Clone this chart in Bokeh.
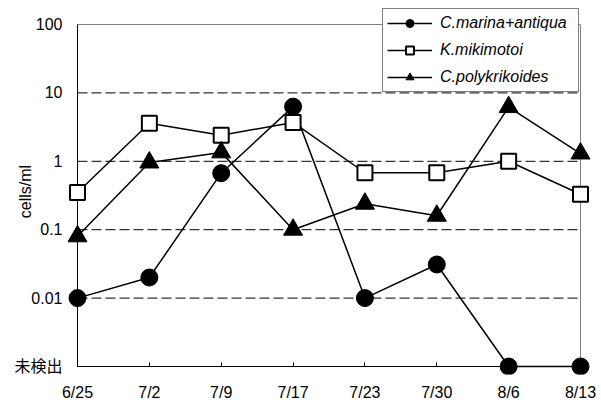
import math
from bokeh.plotting import figure
from bokeh.models import FixedTicker, Range1d, Legend, LegendItem, LinearAxis
from bokeh.embed import file_html
from bokeh.resources import INLINE

# ---------------- data ----------------
dates = ["6/25", "7/2", "7/9", "7/17", "7/23", "7/30", "8/6", "8/13"]
ND = 0.001  # plotted level for 未検出 (not detected)
marina = [0.01, 0.02, 0.67, 6.3, 0.01, 0.031, ND, ND]
mikimotoi = [0.35, 3.6, 2.4, 3.7, 0.68, 0.68, 1.0, 0.33]
polykrikoides = [0.08, 0.96, 1.35, 0.1, 0.24, 0.16, 6.2, 1.3]
series_names = ["C.marina+antiqua", "K.mikimotoi", "C.polykrikoides"]
y_ticks = [ND, 0.01, 0.1, 1, 10, 100]
y_tick_labels = ["未検出", "0.01", "0.1", "1", "10", "100"]
grid_levels = [0.01, 0.1, 1, 10]

xs = list(range(len(dates)))

# ---------------- layout (figure px) ----------------
W, H = 601, 403
FL, FR, FT, FB = 67, 592, 8, 374          # frame edges
AX_L, AX_R = 77, 580                       # x = first / last category
AX_T, AX_B = 24, 366                       # y = 100 / ND
px_per_x = (AX_R - AX_L) / (xs[-1] - xs[0])
x_start = xs[0] - (AX_L - FL) / px_per_x
x_end = xs[-1] + (FR - AX_R) / px_per_x
lt, lb = math.log10(y_ticks[-1]), math.log10(y_ticks[0])
px_per_dec = (AX_B - AX_T) / (lt - lb)
y_end = 10 ** (lt + (AX_T - FT) / px_per_dec)
y_start = 10 ** (lb - (FB - AX_B) / px_per_dec)

p = figure(width=W, height=H, x_range=Range1d(x_start, x_end),
           y_range=Range1d(y_start, y_end), y_axis_type="log",
           output_backend="svg", toolbar_location=None,
           min_border_left=FL, min_border_right=W - FR,
           min_border_top=FT, min_border_bottom=H - FB,
           outline_line_color=None, background_fill_color="white")
p.grid.visible = False

FONT = "Liberation Sans, Noto Sans CJK JP"

# x axis (labels, at the frame bottom)
xa = p.xaxis[0]
xa.ticker = FixedTicker(ticks=xs)
xa.major_label_overrides = {i: d for i, d in enumerate(dates)}
xa.axis_line_color = None
xa.major_tick_line_color = None
xa.major_tick_out = 0
xa.major_tick_in = 0
xa.minor_tick_line_color = None
xa.minor_tick_out = 0
xa.major_label_standoff = 9
xa.major_label_text_font = FONT
xa.major_label_text_font_size = "16px"
xa.major_label_text_color = "black"

# x axis tick marks (on the ND level)
xt = LinearAxis(fixed_location=y_ticks[0], ticker=FixedTicker(ticks=xs),
                major_label_overrides={i: "" for i in xs},
                bounds=(xs[0], xs[-1]), axis_line_color=None,
                major_tick_in=4, major_tick_out=0, major_tick_line_color="black",
                minor_tick_line_color=None, major_label_standoff=0)
p.add_layout(xt, "below")

# y axis
ya = p.yaxis[0]
ya.ticker = FixedTicker(ticks=y_ticks)
ya.major_label_overrides = {float(t): lab for t, lab in zip(y_ticks, y_tick_labels)}
ya.axis_line_color = None
ya.major_tick_line_color = None
ya.major_tick_out = 0
ya.major_tick_in = 0
ya.minor_tick_line_color = None
ya.minor_tick_out = 0
ya.major_label_standoff = 5
ya.major_label_text_font = FONT
ya.major_label_text_font_size = "16px"
ya.major_label_text_color = "black"
ya.axis_label = "cells/ml"
ya.axis_label_standoff = -23
ya.axis_label_text_font = FONT
ya.axis_label_text_font_style = "normal"
ya.axis_label_text_font_size = "16px"
ya.axis_label_text_color = "black"

# grid lines (dashed)
n = len(grid_levels)
p.segment(x0=[xs[0]] * n, y0=grid_levels, x1=[xs[-1]] * n, y1=grid_levels,
          line_color="black", line_width=1, line_dash="10 4")
# plot-area border (gray) and axis lines (black)
p.segment(x0=[xs[0], xs[-1]], y0=[y_ticks[-1], y_ticks[0]],
          x1=[xs[-1], xs[-1]], y1=[y_ticks[-1], y_ticks[-1]],
          line_color="#808080", line_width=1)
p.segment(x0=[xs[0], xs[0]], y0=[y_ticks[0], y_ticks[0]],
          x1=[xs[0], xs[-1]], y1=[y_ticks[-1], y_ticks[0]],
          line_color="black", line_width=1)

styles = [
    dict(marker="circle", size=17, fill_color="black", line_width=1),
    dict(marker="square", size=15, fill_color="white", line_width=2),
    dict(marker="triangle", size=19, fill_color="black", line_width=1),
]
items = []
for name, vals, st in zip(series_names, [marina, mikimotoi, polykrikoides], styles):
    rl = p.line(xs, vals, line_color="black", line_width=1.5)
    rm = p.scatter(xs, vals, marker=st["marker"], size=st["size"],
                   fill_color=st["fill_color"], line_color="black",
                   line_width=st["line_width"])
    items.append(LegendItem(label=name, renderers=[rl, rm]))

legend = Legend(items=items, location=(382 - FL, FB - 92), glyph_width=45, glyph_height=20,
                label_standoff=8, label_width=134, label_height=20, padding=4, spacing=7,
                margin=0, border_line_color="black", border_line_width=1,
                background_fill_color="white", background_fill_alpha=1,
                label_text_font=FONT, label_text_font_style="italic",
                label_text_font_size="16px", label_text_color="black")
p.add_layout(legend)

open("out.html", "w").write(file_html(p, INLINE))
